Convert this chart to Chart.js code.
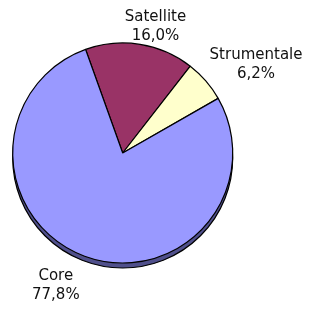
<!DOCTYPE html>
<html>
<head>
<meta charset="utf-8">
<script src="https://cdn.jsdelivr.net/npm/chart.js@4/dist/chart.umd.min.js"></script>
<style>
  html, body { margin: 0; padding: 0; background: #ffffff; }
  #wrap { width: 311px; height: 313px; }
</style>
</head>
<body>
<div id="wrap"><canvas id="c" width="311" height="313"></canvas></div>
<script>
const categories = ["Satellite", "Strumentale", "Core"];
const values = [16.0, 6.2, 77.8];
const colors = ["#993366", "#FFFFCC", "#9999FF"];
const shadowColor = "#50508c";

const fontFamily = "'DejaVu Sans', Verdana, sans-serif";
const fontSize = 15;
const lineHeight = 19;

const shadowPlugin = {
  id: 'pieShadow',
  beforeDatasetsDraw(chart) {
    const meta = chart.getDatasetMeta(0);
    if (!meta.data.length) return;
    const a = meta.data[0];
    const ctx = chart.ctx;
    ctx.save();
    ctx.beginPath();
    ctx.arc(a.x, a.y + 5, a.outerRadius, 0, Math.PI * 2);
    ctx.fillStyle = shadowColor;
    ctx.fill();
    ctx.lineWidth = 1.2;
    ctx.strokeStyle = '#000000';
    ctx.stroke();
    ctx.restore();
  }
};

const labelPlugin = {
  id: 'outsideLabels',
  afterDatasetsDraw(chart) {
    const meta = chart.getDatasetMeta(0);
    const ctx = chart.ctx;
    const data = chart.data.datasets[0].data;
    const total = data.reduce((s, v) => s + v, 0);
    ctx.save();
    ctx.font = fontSize + "px " + fontFamily;
    ctx.fillStyle = '#111111';
    ctx.textAlign = 'center';
    ctx.textBaseline = 'alphabetic';
    const clamp = v => Math.max(-1, Math.min(1, v));
    meta.data.forEach((arc, i) => {
      const mid = (arc.startAngle + arc.endAngle) / 2;
      const cx = Math.cos(mid), cy = Math.sin(mid);
      const d = 5 + 10 * Math.max(0, cy);
      const px = arc.x + (arc.outerRadius + d) * cx;
      const py = arc.y + (arc.outerRadius + d) * cy;
      const lines = [chart.data.labels[i], (data[i] / total * 100).toFixed(1).replace('.', ',') + '%'];
      const hw = Math.max(...lines.map(l => ctx.measureText(l).width)) / 2;
      const hh = 14.5;
      const bx = px + hw * clamp(3 * cx);
      const by = py + hh * clamp(3 * cy);
      const capHalf = fontSize * 0.365;
      ctx.fillText(lines[0], bx, by - lineHeight / 2 + capHalf);
      ctx.fillText(lines[1], bx, by + lineHeight / 2 + capHalf);
    });
    ctx.restore();
  }
};

new Chart(document.getElementById('c'), {
  type: 'pie',
  data: {
    labels: categories,
    datasets: [{
      data: values,
      backgroundColor: colors,
      borderColor: '#000000',
      borderWidth: 1.2,
      hoverOffset: 0,
      offset: 0
    }]
  },
  options: {
    responsive: false,
    animation: false,
    rotation: -19.7,
    radius: 110,
    layout: { padding: { left: 0, right: 65.6, top: 0, bottom: 7 } },
    plugins: {
      legend: { display: false },
      tooltip: { enabled: false }
    },
    events: []
  },
  plugins: [shadowPlugin, labelPlugin]
});
</script>
</body>
</html>
